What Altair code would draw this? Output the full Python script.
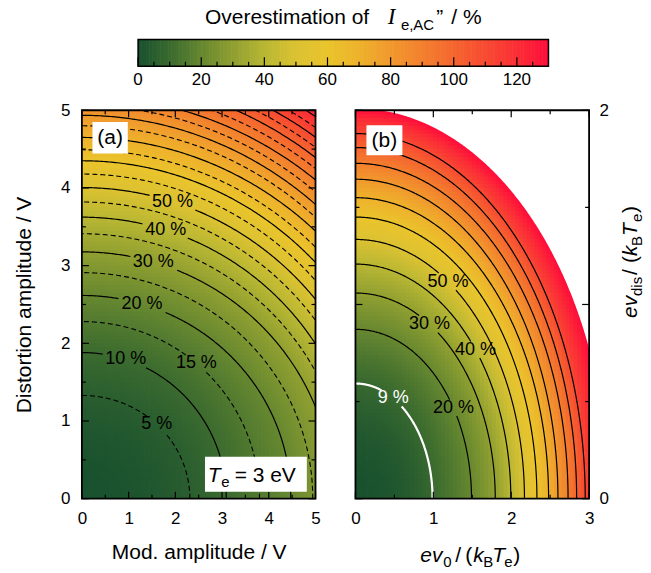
import numpy as np
import pandas as pd
import altair as alt

# ---------------- values ----------------
# contour levels (%) and their intercepts on the axes, in units of e v / (k_B T_e)
LEVELS = [5, 9, 10, 15, 20, 25, 30, 35, 40, 45, 50, 55, 60, 65, 70, 75, 80,
          85, 90, 95, 100, 105, 110, 115, 120, 125, 130]
X_INT = [0.77, 0.99, 1.03, 1.267, 1.49, 1.647, 1.795, 1.90, 1.995, 2.085, 2.17,
         2.25, 2.33, 2.405, 2.48, 2.54, 2.60, 2.665, 2.73, 2.785, 2.84, 2.89,
         2.95, 3.0, 3.08, 3.16, 3.25]
Y_INT = [0.443, 0.593, 0.627, 0.76, 0.872, 0.97, 1.059, 1.137, 1.208, 1.273,
         1.335, 1.393, 1.45, 1.497, 1.55, 1.60, 1.645, 1.687, 1.727, 1.768,
         1.808, 1.845, 1.88, 1.915, 1.95, 1.98, 2.01]
CUTOFF = 130

# panel (a): volts, T_e = 3 eV
T_E = 3.0
A_LEVELS = [5, 10, 15, 20, 25, 30, 35, 40, 45, 50, 55, 60, 65, 70, 75, 80,
            85, 90, 95, 100, 105, 110, 115, 120]
A_LAB_LEVEL = [5, 10, 15, 20, 30, 40, 50]
A_LAB_X = [1.56, 0.92, 2.46, 1.29, 1.52, 1.78, 1.93]
A_LAB_Y = [0.93, 1.76, 1.75, 2.51, 3.03, 3.43, 3.80]
A_TICKS = [0, 1, 2, 3, 4, 5]
A_MINOR = [0.5, 1.5, 2.5, 3.5, 4.5]

# panel (b): normalised units
B_LEVELS = [20, 30, 40, 50, 60, 70, 80, 90, 100, 110]
B_WHITE = [9]
B_LAB_LEVEL = [9, 20, 30, 40, 50]
B_LAB_X = [0.47, 1.24, 0.93, 1.53, 1.18]
B_LAB_Y = [0.50, 0.46, 0.88, 0.76, 1.11]
B_XTICKS = [0, 1, 2, 3]
B_XMINOR = [0.5, 1.5, 2.5]
B_YTICKS = [0, 1, 2]
B_YMINOR = [0.5, 1.5]

# colour bar
CB_STOPS = [0, 10, 20, 30, 40, 50, 60, 70, 80, 90, 100, 110, 120, 130]
CB_COLORS = ["#19512f", "#3b6b2f", "#678830", "#91a031", "#b9b733", "#dcc232",
             "#eac42c", "#eeb12c", "#f1982d", "#f37f2e", "#f5652f", "#f84a32",
             "#fb2e36", "#ff0c3b"]
CB_MAJOR = [0, 20, 40, 60, 80, 100, 120]
CB_MINOR = [5, 10, 15, 25, 30, 35, 45, 50, 55, 65, 70, 75, 85, 90, 95, 105,
            110, 115, 125]

# ---------------- layout / style ----------------
FONT = "Liberation Sans"
SERIF = "Liberation Serif"
W, H = 234, 389
MAJ, MIN = 7, 4
DUMMY = pd.DataFrame({"d": [0]})

# ---------------- field built from the read contours ----------------
_Lf = np.linspace(0.2, CUTOFF, 650)
_sq = np.sqrt(np.array([0.0] + LEVELS))
_Xf = np.interp(np.sqrt(_Lf), _sq, np.array([0.0] + X_INT))
_Yf = np.interp(np.sqrt(_Lf), _sq, np.array([0.0] + Y_INT))


def field(xu, yu):
    s = (xu[:, None] / _Xf[None, :]) ** 2 + (yu[:, None] / _Yf[None, :]) ** 2
    inside = s <= 1.0
    has = inside.any(axis=1)
    idx = inside.argmax(axis=1)
    return np.where(has, _Lf[idx], CUTOFF + 1.0)


def heat(xmax, ymax, nx, ny, unit):
    dx, dy = xmax / nx, ymax / ny
    gx, gy = np.meshgrid(np.arange(nx) * dx, np.arange(ny) * dy)
    gx, gy = gx.ravel(), gy.ravel()
    v = field((gx + dx / 2) / unit, (gy + dy / 2) / unit)
    return pd.DataFrame({"x": gx.round(4), "x2": (gx + dx * 1.2).round(4),
                         "y": gy.round(4), "y2": (gy + dy * 1.2).round(4),
                         "v": v.round(2)})


def twidth(s, size):
    w = {"%": 0.889, " ": 0.278}
    return sum(w.get(c, 0.556) for c in s) * size


def snap(level, lx, ly, unit):
    i = LEVELS.index(level)
    X, Y = X_INT[i] * unit, Y_INT[i] * unit
    t = np.arctan2(ly / Y, lx / X)
    return X * np.cos(t), Y * np.sin(t)


def labels(levels, lxs, lys, unit):
    rows = []
    for L, lx, ly in zip(levels, lxs, lys):
        x, y = snap(L, lx, ly, unit)
        rows.append({"L": L, "x": x, "y": y, "t": f"{L} %"})
    return pd.DataFrame(rows)


def contours(levels, unit, labs, pxx, pxy):
    rows = []
    for L in levels:
        i = LEVELS.index(L)
        X, Y = X_INT[i] * unit, Y_INT[i] * unit
        th = np.linspace(0, np.pi / 2, 260)
        x, y = X * np.cos(th), Y * np.sin(th)
        keep = np.ones_like(x, dtype=bool)
        for _, r in labs[labs.L == L].iterrows():
            hw = twidth(r.t, 18) / 2 + 2
            keep &= ~((np.abs((x - r.x) * pxx) < hw) & (np.abs((y - r.y) * pxy) < 8))
        seg = np.cumsum(~keep)
        for j in np.where(keep)[0]:
            rows.append({"key": f"{L}-{seg[j]}", "o": int(j),
                         "x": round(float(x[j]), 4), "y": round(float(y[j]), 4)})
    return pd.DataFrame(rows)


cscale = alt.Scale(domain=CB_STOPS, range=CB_COLORS, interpolate="rgb", clamp=True)


def txt(s, x, y, size=21, style="normal", font=FONT, angle=0, align="left",
        baseline="alphabetic", color="black"):
    return alt.Chart(DUMMY).mark_text(
        text=s, font=font, fontSize=size, fontStyle=style, angle=angle,
        align=align, baseline=baseline, color=color).encode(
        x=alt.value(x), y=alt.value(y))


def box(x0, y0, x1, y1):
    return alt.Chart(DUMMY).mark_rect(fill="white").encode(
        x=alt.value(x0), x2=alt.value(x1), y=alt.value(y0), y2=alt.value(y1))


def frame():
    return alt.Chart(DUMMY).mark_rect(filled=False, stroke="black", strokeWidth=1.8).encode(
        x=alt.value(0), x2=alt.value(W), y=alt.value(0), y2=alt.value(H))


def panel_layers(xdom, ydom, axx, axy, heat_df, xt, xm, yt, ym):
    sx = alt.Scale(domain=xdom, nice=False, zero=False)
    sy = alt.Scale(domain=ydom, nice=False, zero=False)
    X = lambda f="x": alt.X(f"{f}:Q", scale=sx, axis=axx)
    Y = lambda f="y": alt.Y(f"{f}:Q", scale=sy, axis=axy)
    hm = alt.Chart(heat_df).mark_rect(clip=True).encode(
        x=X(), x2="x2:Q", y=Y(), y2="y2:Q",
        color=alt.Color("v:Q", scale=cscale, legend=None))
    ticks = []
    for vals, ln in ((xt, MAJ), (xm, MIN)):
        d = pd.DataFrame({"x": vals})
        ticks.append(alt.Chart(d).mark_rule(color="black", strokeWidth=1.2).encode(
            x=X(), y=alt.value(H), y2=alt.value(H - ln)))
        ticks.append(alt.Chart(d).mark_rule(color="black", strokeWidth=1.2).encode(
            x=X(), y=alt.value(0), y2=alt.value(ln)))
    for vals, ln in ((yt, MAJ), (ym, MIN)):
        d = pd.DataFrame({"y": vals})
        ticks.append(alt.Chart(d).mark_rule(color="black", strokeWidth=1.2).encode(
            y=Y(), x=alt.value(0), x2=alt.value(ln)))
        ticks.append(alt.Chart(d).mark_rule(color="black", strokeWidth=1.2).encode(
            y=Y(), x=alt.value(W), x2=alt.value(W - ln)))
    return hm, ticks, X, Y


# ---------------- panel (a) ----------------
ax_ax = alt.Axis(values=A_TICKS, format="d", title="Mod. amplitude / V",
                 labelPadding=12, titlePadding=15)
ax_ay = alt.Axis(values=A_TICKS, format="d", title="Distortion amplitude / V",
                 labelPadding=12, titlePadding=26)
heat_a = heat(5, 5, 60, 100, T_E)
hm_a, ticks_a, XA, YA = panel_layers([0, 5], [0, 5], ax_ax, ax_ay, heat_a,
                                     A_TICKS, A_MINOR, A_TICKS, A_MINOR)
lab_a = labels(A_LAB_LEVEL, A_LAB_X, A_LAB_Y, T_E)
cont_a = contours(A_LEVELS, T_E, lab_a, W / 5, H / 5)
cont_a["solid"] = cont_a.key.str.split("-").str[0].astype(int) % 10 == 0
solid_a = alt.Chart(cont_a[cont_a.solid]).mark_line(
    clip=True, color="black", strokeWidth=1.2).encode(
    x=XA(), y=YA(), detail="key:N", order="o:Q")
dash_a = alt.Chart(cont_a[~cont_a.solid]).mark_line(
    clip=True, color="black", strokeWidth=1.1, strokeDash=[5, 3]).encode(
    x=XA(), y=YA(), detail="key:N", order="o:Q")
text_a = alt.Chart(lab_a).mark_text(font=FONT, fontSize=18, color="black",
                                    align="center", baseline="middle").encode(
    x=XA(), y=YA(), text="t:N")

inner_a = alt.layer(
    hm_a, solid_a, dash_a, text_a, *ticks_a,
    box(10.6, 11.7, 46, 43.3), txt("(a)", 28.3, 28, size=21, align="center", baseline="middle"),
    box(123.3, 347, 225.3, 382),
    txt("T", 126, 372, size=21, style="italic"),
    txt("e", 139.5, 377, size=15),
    txt("= 3 eV", 153, 372, size=21),
    frame(),
)

# colour bar (drawn above panel a)
CB_X0, CB_X1, CB_Y0, CB_Y1 = 56.3, 467.3, -71, -44
cbx = alt.Scale(domain=[0, 130], range=[CB_X0, CB_X1], nice=False, zero=False)
cb_vals = np.arange(0, 130, 0.5)
cb_df = pd.DataFrame({"c": cb_vals, "c2": np.minimum(cb_vals + 0.7, 130)})
cb_rect = alt.Chart(cb_df).mark_rect().encode(
    x=alt.X("c:Q", scale=cbx, axis=None), x2="c2:Q",
    y=alt.value(CB_Y0), y2=alt.value(CB_Y1),
    color=alt.Color("c:Q", scale=cscale, legend=None))
cb_frame = alt.Chart(pd.DataFrame({"a": [0], "b": [130]})).mark_rect(
    filled=False, stroke="black", strokeWidth=1.5).encode(
    x=alt.X("a:Q", scale=cbx, axis=None), x2="b:Q",
    y=alt.value(CB_Y0), y2=alt.value(CB_Y1))
cb_major = alt.Chart(pd.DataFrame({"t": CB_MAJOR})).mark_rule(color="black", strokeWidth=1.2).encode(
    x=alt.X("t:Q", scale=cbx, axis=None), y=alt.value(CB_Y1), y2=alt.value(CB_Y1 - 9))
cb_minor = alt.Chart(pd.DataFrame({"t": CB_MINOR})).mark_rule(color="black", strokeWidth=1.2).encode(
    x=alt.X("t:Q", scale=cbx, axis=None), y=alt.value(CB_Y1), y2=alt.value(CB_Y1 - 4.5))
cb_lab = alt.Chart(pd.DataFrame({"t": CB_MAJOR})).mark_text(
    font=FONT, fontSize=17, color="black", align="center", baseline="middle").encode(
    x=alt.X("t:Q", scale=cbx, axis=None), y=alt.value(-30), text=alt.Text("t:Q", format="d"))
cb_layer = alt.layer(
    cb_rect, cb_frame, cb_major, cb_minor, cb_lab,
    txt("Overestimation of", 123.3, -86, size=21),
    txt("I", 306.3, -86, size=23, style="italic", font=SERIF),
    txt("e,AC", 319.5, -80, size=15),
    txt("\u201d", 355, -86, size=21),
    txt("/ %", 370, -86, size=21),
)

panel_a = alt.layer(inner_a, cb_layer).resolve_scale(x="independent").properties(width=W, height=H)

# ---------------- panel (b) ----------------
ax_bx = alt.Axis(values=B_XTICKS, format="d", title=None, labelPadding=12)
ax_by = alt.Axis(values=B_YTICKS, format="d", title=None, orient="right", labelPadding=10)
heat_b = heat(3, 2, 60, 100, 1.0)
hm_b, ticks_b, XB, YB = panel_layers([0, 3], [0, 2], ax_bx, ax_by, heat_b,
                                     B_XTICKS, B_XMINOR, B_YTICKS, B_YMINOR)
lab_b = labels(B_LAB_LEVEL, B_LAB_X, B_LAB_Y, 1.0)
cont_b = contours(B_LEVELS, 1.0, lab_b, W / 3, H / 2)
cont_w = contours(B_WHITE, 1.0, lab_b, W / 3, H / 2)
lines_b = alt.Chart(cont_b).mark_line(clip=True, color="black", strokeWidth=1.2).encode(
    x=XB(), y=YB(), detail="key:N", order="o:Q")
lines_w = alt.Chart(cont_w).mark_line(clip=True, color="white", strokeWidth=2.2).encode(
    x=XB(), y=YB(), detail="key:N", order="o:Q")
ic = LEVELS.index(CUTOFF)
thc = np.linspace(0, np.pi / 2, 300)
cut_df = pd.DataFrame({"x": (X_INT[ic] * np.cos(thc)).round(4),
                       "y": (Y_INT[ic] * np.sin(thc)).round(4), "top": 2.0})
white_b = alt.Chart(cut_df).mark_area(clip=True, color="white", opacity=1).encode(
    x=XB(), y=YB(), y2="top:Q")
lab_bk = lab_b[lab_b.L != 9]
lab_bw = lab_b[lab_b.L == 9]
text_b = alt.Chart(lab_bk).mark_text(font=FONT, fontSize=18, color="black",
                                     align="center", baseline="middle").encode(
    x=XB(), y=YB(), text="t:N")
text_bw = alt.Chart(lab_bw).mark_text(font=FONT, fontSize=18, color="white",
                                      align="center", baseline="middle").encode(
    x=XB(), y=YB(), text="t:N")

TY = 452
panel_b = alt.layer(
    hm_b, white_b, lines_b, lines_w, text_b, text_bw, *ticks_b,
    box(11, 15, 47, 45), txt("(b)", 29, 31, size=21, align="center", baseline="middle"),
    frame(),
    # x title: e v_0 / (k_B T_e)
    txt("ev", 65, TY, style="italic"),
    txt("0", 88, TY + 5, size=15),
    txt("/", 100, TY),
    txt("(", 110, TY),
    txt("k", 118, TY, style="italic"),
    txt("B", 128, TY + 5, size=15),
    txt("T", 137, TY, style="italic"),
    txt("e", 149, TY + 5, size=15),
    txt(")", 158, TY),
    # right title: e v_dis / (k_B T_e)
    txt("ev", 282, 208, style="italic", angle=270),
    txt("dis", 287, 186, size=15, angle=270),
    txt("/", 282, 165, angle=270),
    txt("(", 282, 153, angle=270),
    txt("k", 282, 146, style="italic", angle=270),
    txt("B", 287, 136, size=15, angle=270),
    txt("T", 282, 126, style="italic", angle=270),
    txt("e", 287, 112, size=15, angle=270),
    txt(")", 282, 103, angle=270),
).properties(width=W, height=H)

chart = alt.hconcat(panel_a, panel_b, spacing=40, bounds="flush").properties(
    padding={"left": 13, "top": 5, "right": 5, "bottom": 5},
    background="white",
).configure_view(stroke="transparent").configure_axis(
    labelFont=FONT, titleFont=FONT, labelFontSize=17, titleFontSize=21,
    titleFontWeight="normal", labelColor="black", titleColor="black",
    grid=False, ticks=False, domain=False, labelFlush=False
)

chart.save("out.html", embed_options={"renderer": "svg", "actions": False})
